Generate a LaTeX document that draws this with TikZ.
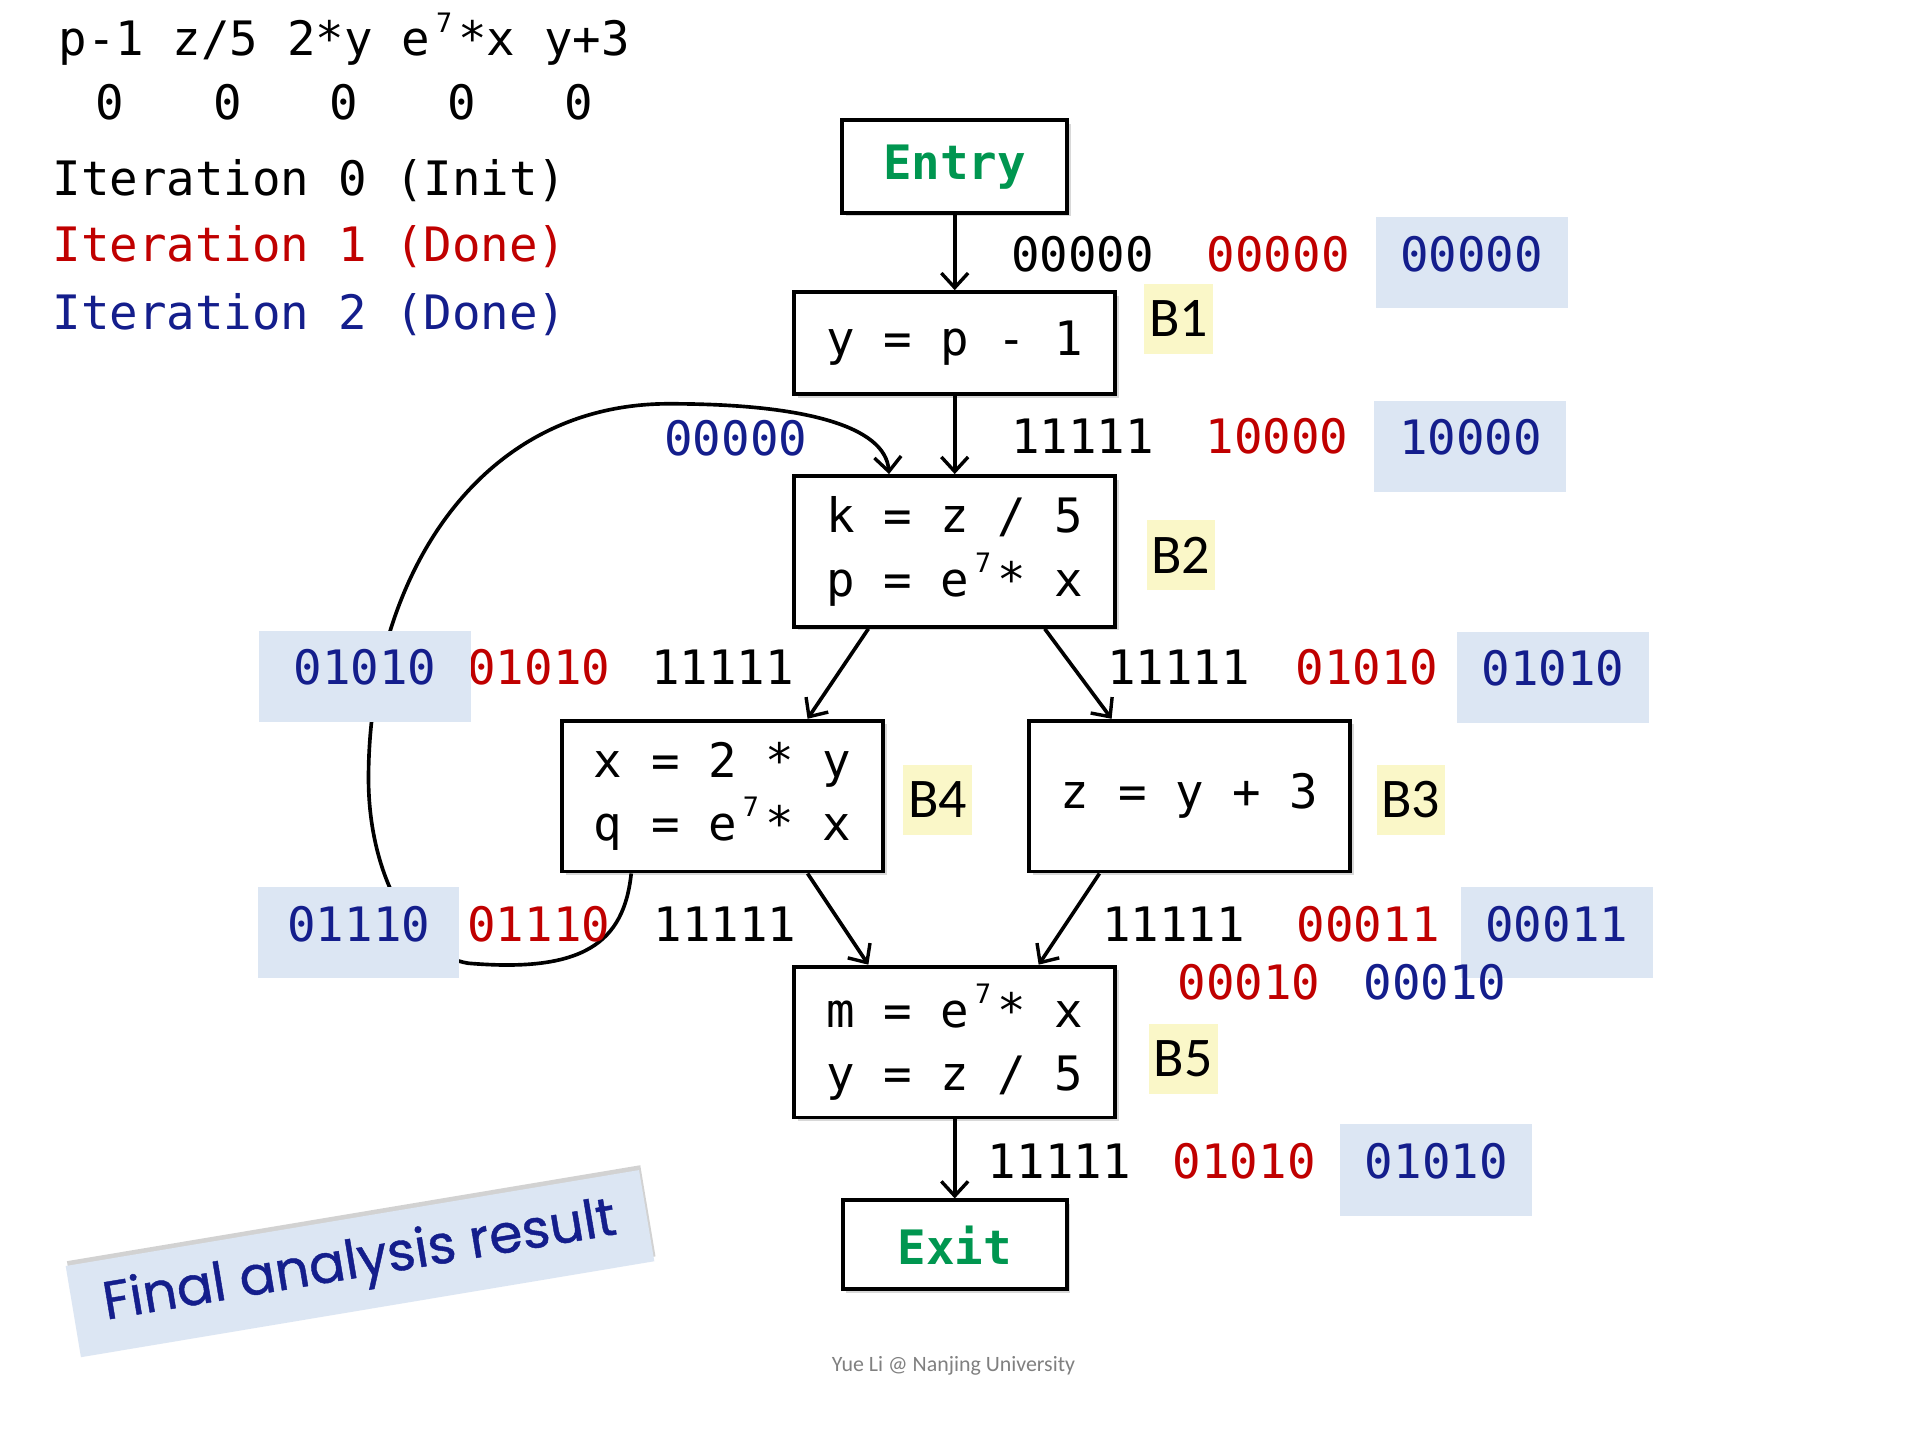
\documentclass[tikz,border=0pt]{standalone}
\usepackage{fontspec}
\setmonofont{DejaVu Sans Mono}
\newfontfamily\tagfont{Carlito}
\newfontfamily\notefont[FakeBold=0.8]{Poppins}
\usetikzlibrary{arrows.meta,positioning,shadows}
\definecolor{iterred}{RGB}{192,0,0}
\definecolor{iterblue}{RGB}{20,30,140}
\definecolor{entrygreen}{RGB}{0,150,80}
\definecolor{hlblue}{RGB}{220,230,243}
\definecolor{hlyellow}{RGB}{250,247,200}
\newcommand{\sev}{\makebox[0.602em][c]{\raisebox{0.5em}{\fontsize{22}{22}\selectfont 7}}}

\begin{document}
\begin{tikzpicture}[x=1pt,y=-1pt,
		code/.style={font=\ttfamily\fontsize{39}{52}\selectfont,inner sep=0pt},
		blk/.style={draw,line width=3.2pt,fill=white,align=center,
			minimum width=264pt,minimum height=124pt,
			drop shadow={shadow xshift=3pt,shadow yshift=-3pt,opacity=0.3},
			font=\ttfamily\fontsize{39}{52}\selectfont},
		tag/.style={fill=hlyellow,inner sep=4pt,minimum height=58pt,
			font=\tagfont\fontsize{46}{46}\selectfont},
		blu/.style={code,fill=hlblue,text=iterblue,minimum width=158pt,
			minimum height=75pt,text height=28pt,text depth=14pt},
		arr/.style={-{Straight Barb[length=12pt,width=22pt,line width=2.8pt]},line width=3pt}]
	\useasboundingbox (0,0) rectangle (1568,1175);
	\fill[white] (0,0) rectangle (1568,1175);

	% legend
	\node[code,anchor=base west] (head) at (48,46) {p-1 z/5 2*y e\sev*x y+3};
	\foreach \x in {90,187,283,380,476}
		\node[code,anchor=base] at (\x,98) {0};
	\node[code,anchor=base west] (it0) at (43,161) {Iteration 0 (Init)};
	\node[code,anchor=base west,text=iterred] (it1) at (43,215) {Iteration 1 (Done)};
	\node[code,anchor=base west,text=iterblue] (it2) at (43,271) {Iteration 2 (Done)};

	% blocks
	\node[blk,minimum width=185pt,minimum height=76pt,text=entrygreen,
		font=\ttfamily\bfseries\fontsize{39}{52}\selectfont] (entry) at (785,137) {Entry};
	\node[blk,minimum height=84pt,below=62pt of entry] (b1) {y = p - 1};
	\node[blk,below=64pt of b1] (b2) {k = z / 5\\p = e\sev* x};
	\node[blk,below=74pt of b2,xshift=-191pt] (b4) {x = 2 * y\\q = e\sev* x};
	\node[blk,below=74pt of b2,xshift=193pt] (b3) {z = y + 3};
	\node[blk,below=75pt of b4,xshift=191pt] (b5) {m = e\sev* x\\y = z / 5};
	\node[blk,minimum width=184pt,minimum height=73pt,text=entrygreen,
		font=\ttfamily\bfseries\fontsize{39}{52}\selectfont,below=65pt of b5] (exit) {Exit};

	\node[tag,right=22pt of b1,yshift=20pt] (t1) {B1};
	\node[tag,right=24pt of b2,yshift=-3pt] (t2) {B2};
	\node[tag,right=15pt of b4,yshift=-3pt] (t4) {B4};
	\node[tag,right=20pt of b3,yshift=-3pt] (t3) {B3};
	\node[tag,right=26pt of b5,yshift=-14pt] (t5) {B5};

	% edges
	\draw[arr] (entry) -- (b1);
	\draw[arr] (b1) -- (b2);
	\draw[arr] ([xshift=-71pt]b2.south) -- ([xshift=70pt]b4.north);
	\draw[arr] ([xshift=74pt]b2.south) -- ([xshift=-64pt]b3.north);
	\draw[arr] ([xshift=70pt]b4.south) -- ([xshift=-71pt]b5.north);
	\draw[arr] ([xshift=-74pt]b3.south) -- ([xshift=69pt]b5.north);
	\draw[arr] (b5) -- (exit);
	\draw[arr] ([xshift=-75pt]b4.south) .. controls (513,775) and (480,800) .. (385,792)
		.. controls (340,785) and (303,720) .. (303,640)
		.. controls (303,480) and (390,332) .. (550,332)
		.. controls (660,332) and (728,350) .. ([xshift=-54pt]b2.north);

	% facts per iteration
	\foreach \x/\y/\v in {890/209/00000,890/359/11111,594/549/11111,969/549/11111,
			596/760/11111,965/760/11111,871/955/11111}
		\node[code] at (\x,\y) {\v};
	\foreach \x/\y/\v in {1051/209/00000,1050/359/10000,443/549/01010,1124/549/01010,
			443/760/01110,1125/760/00011,1027/808/00010,1023/955/01010}
		\node[code,text=iterred] at (\x,\y) {\v};
	\node[code,text=iterblue] at (605,360) {00000};
	\node[blu] at (1210,216) {00000};
	\node[blu] at (1209,367) {10000};
	\node[blu,minimum width=174pt] at (300,556) {01010};
	\node[blu] at (1277,557) {01010};
	\node[blu,minimum width=165pt] at (295,767) {01110};
	\node[blu] at (1280,767) {00011};
	\node[blu] at (1181,962) {01010};
	\node[code,text=iterblue] at (1180,808) {00010};

	% note
	\node[fill=hlblue,minimum width=478pt,minimum height=76pt,rotate=9.5,
		drop shadow={shadow xshift=1pt,shadow yshift=4pt,opacity=0.35},
		text=iterblue,font=\notefont\fontsize{44}{44}\selectfont] (note) at (296,1039) {Final analysis result};
	\node[text=gray,font=\tagfont\fontsize{18}{18}\selectfont] (foot) at (784,1123) {Yue Li @ Nanjing University};
\end{tikzpicture}
\end{document}
